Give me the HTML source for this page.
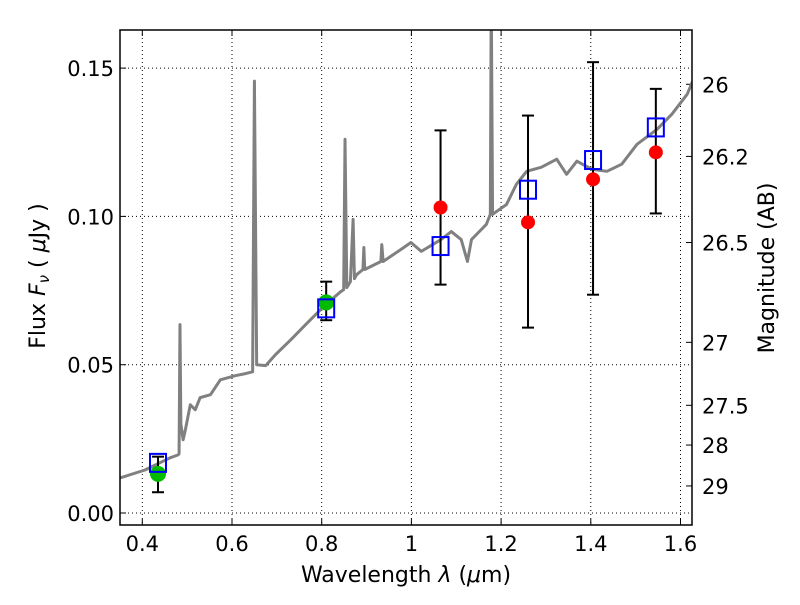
<!DOCTYPE html>
<html><head><meta charset="utf-8"><style>
html,body{margin:0;padding:0;background:#fff;}
svg text{font-family:"DejaVu Sans","Liberation Sans",sans-serif;}
</style></head><body>
<svg id="chart" width="800" height="600"></svg>
<script>
const specLam=[0.35,0.406,0.462,0.480,0.482,0.484,0.486,0.491,0.496,0.507,0.518,0.529,0.552,0.574,0.607,0.630,0.646,0.650,0.655,0.675,0.697,0.731,0.764,0.809,0.843,0.849,0.852,0.856,0.864,0.870,0.873,0.878,0.892,0.894,0.896,0.932,0.934,0.937,0.977,0.999,1.022,1.066,1.089,1.111,1.125,1.134,1.145,1.167,1.176,1.178,1.181,1.212,1.234,1.257,1.290,1.324,1.346,1.369,1.402,1.436,1.469,1.503,1.548,1.581,1.615,1.631];
const specFlux=[0.0118,0.0145,0.0186,0.0196,0.020,0.0635,0.030,0.0247,0.028,0.0365,0.0348,0.0389,0.0399,0.0449,0.0463,0.047,0.0476,0.1456,0.05,0.0497,0.0534,0.0584,0.0635,0.0703,0.0747,0.0753,0.126,0.076,0.078,0.099,0.079,0.0804,0.0821,0.0895,0.0821,0.0848,0.0905,0.0848,0.0889,0.0912,0.0882,0.0922,0.0949,0.0922,0.0848,0.0922,0.0939,0.0973,0.1007,0.175,0.1007,0.104,0.1108,0.1152,0.1166,0.1193,0.1142,0.1186,0.1159,0.1152,0.1176,0.1243,0.1294,0.1345,0.1412,0.147];
const redLam=[1.065,1.26,1.405,1.545];
const redFlux=[0.103,0.098,0.1125,0.1216];
const redLo=[0.077,0.0625,0.0736,0.101];
const redHi=[0.129,0.134,0.152,0.143];
const greenLam=[0.435,0.81];
const greenFlux=[0.0132,0.071];
const greenLo=[0.007,0.065];
const greenHi=[0.019,0.078];
const sqLam=[0.435,0.81,1.065,1.26,1.405,1.545];
const sqFlux=[0.0169,0.069,0.090,0.109,0.119,0.130];
const xTicks=[0.4,0.6,0.8,1.0,1.2,1.4,1.6];
const xTickLabels=["0.4","0.6","0.8","1","1.2","1.4","1.6"];
const yTicks=[0,0.05,0.10,0.15];
const yTickLabels=["0.00","0.05","0.10","0.15"];
const magTicks=[26,26.2,26.5,27,27.5,28,29];
const magLabels=["26","26.2","26.5","27","27.5","28","29"];

const NS="http://www.w3.org/2000/svg";
const svg=document.getElementById('chart');
const L=120,R=692,T=30,B=525;
const xS=v=>142.3+(v-0.4)*448.5;
const yS=v=>513-v*2966;
function mk(tag,attrs,parent){const e=document.createElementNS(NS,tag);for(const k in attrs)e.setAttribute(k,attrs[k]);(parent||svg).appendChild(e);return e;}
const defs=mk('defs',{});
const cp=mk('clipPath',{id:'clip'},defs);mk('rect',{x:L,y:T,width:R-L,height:B-T},cp);
xTicks.forEach((t,i)=>{const g=mk('line',{x1:xS(t),x2:xS(t),y1:T,y2:B,stroke:'#000','stroke-dasharray':'1,3','stroke-width':1});

mk('line',{x1:xS(t),x2:xS(t),y1:B,y2:B-6,stroke:'#000'});mk('line',{x1:xS(t),x2:xS(t),y1:T,y2:T+6,stroke:'#000'});
const tx=mk('text',{x:xS(t),y:B+26,'font-size':21,'text-anchor':'middle'});tx.textContent=xTickLabels[i];
});
yTicks.forEach((t,i)=>{const g=mk('line',{x1:L,x2:R,y1:yS(t),y2:yS(t),stroke:'#000','stroke-dasharray':'1,3','stroke-width':1});

mk('line',{x1:L,x2:L+6,y1:yS(t),y2:yS(t),stroke:'#000'});
const tx=mk('text',{x:L-6,y:yS(t)+8,'font-size':21,'text-anchor':'end'});tx.textContent=yTickLabels[i];
});
magTicks.forEach((m,i)=>{const f=Math.pow(10,(23.9-m)/2.5);const y=yS(f);
mk('line',{x1:R,x2:R-6,y1:y,y2:y,stroke:'#000'});
const tx=mk('text',{x:R+10,y:y+8,'font-size':21});tx.textContent=magLabels[i];
});
const sp=mk('polyline',{points:specLam.map((l,i)=>xS(l)+','+yS(specFlux[i])).join(' '),fill:'none',stroke:'#808080','stroke-width':3,'stroke-linejoin':'round','clip-path':'url(#clip)'});

function ebar(l,lo,hi){const x=xS(l);const g=mk('g',{});
mk('line',{x1:x,x2:x,y1:yS(lo),y2:yS(hi),stroke:'#000','stroke-width':2},g);
mk('line',{x1:x-6,x2:x+6,y1:yS(lo),y2:yS(lo),stroke:'#000','stroke-width':2},g);
mk('line',{x1:x-6,x2:x+6,y1:yS(hi),y2:yS(hi),stroke:'#000','stroke-width':2},g);}
greenLam.forEach((l,i)=>{ebar(l,greenLo[i],greenHi[i]);const c=mk('circle',{cx:xS(l),cy:yS(greenFlux[i]),r:8,fill:'#00bb00'});
});
redLam.forEach((l,i)=>{ebar(l,redLo[i],redHi[i]);const c=mk('circle',{cx:xS(l),cy:yS(redFlux[i]),r:7,fill:'#ff0000'});
});
sqLam.forEach((l,i)=>{const r=mk('rect',{x:xS(l)-8,y:yS(sqFlux[i])-9,width:16,height:18,fill:'none',stroke:'#0000ff','stroke-width':2});
});
const fr=mk('rect',{x:L,y:T,width:R-L,height:B-T,fill:'none',stroke:'#000','stroke-width':1.5});

</script>
<svg width="800" height="600" style="position:absolute;left:0;top:0;pointer-events:none">
<text x="406" y="582" font-size="22" text-anchor="middle" font-family="DejaVu Sans,sans-serif">Wavelength  <tspan font-style="italic">λ</tspan> (<tspan font-style="italic">μ</tspan>m)</text>
<text transform="translate(45,276) rotate(-90)" font-size="22" text-anchor="middle" font-family="DejaVu Sans,sans-serif">Flux  <tspan font-style="italic">F</tspan><tspan font-style="italic" font-size="15" dy="4">ν</tspan><tspan dy="-4">  (  </tspan><tspan font-style="italic">μ</tspan>Jy )</text>
<text transform="translate(774,268) rotate(-90)" font-size="22" text-anchor="middle" font-family="DejaVu Sans,sans-serif">Magnitude (AB)</text>
</svg>
</body></html>
